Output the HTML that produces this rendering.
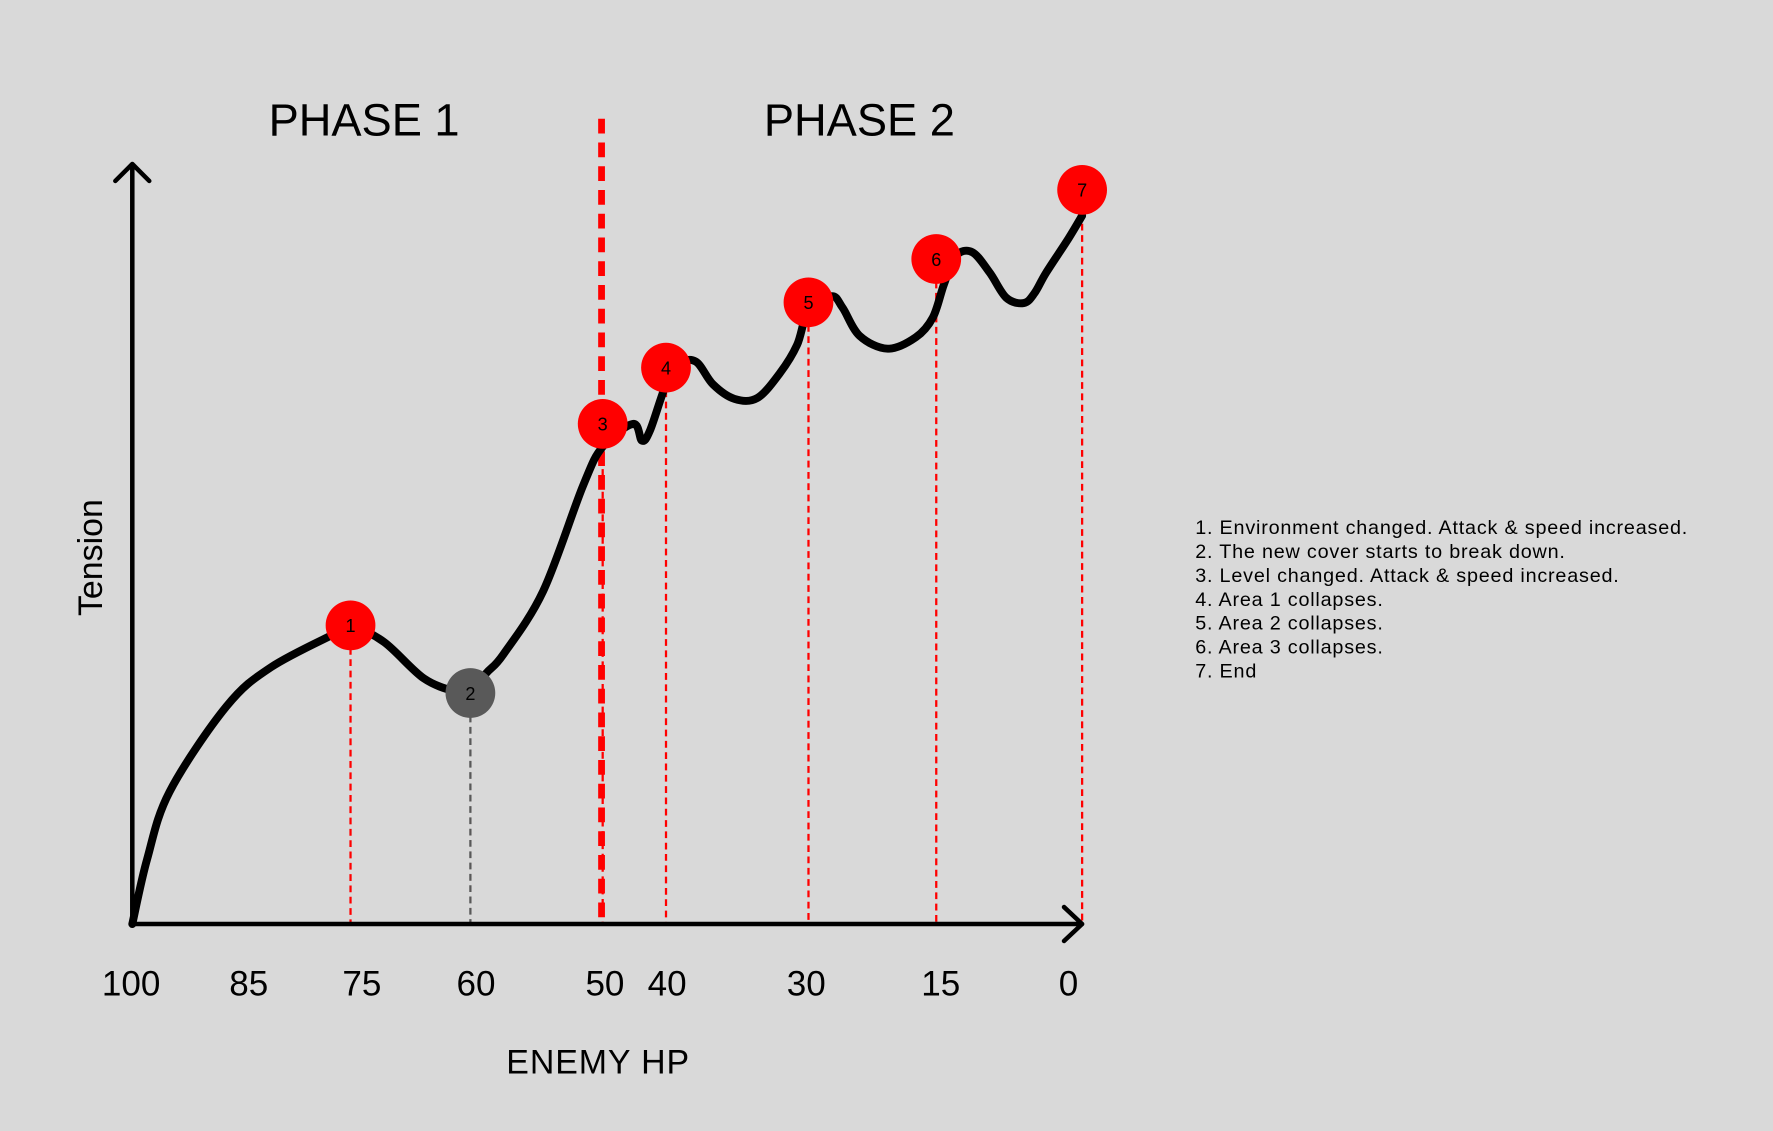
<!DOCTYPE html>
<html><head><meta charset="utf-8"><style>
html,body{margin:0;padding:0;background:#d9d9d9;}
svg{display:block;font-family:"Liberation Sans",sans-serif;}
</style></head><body>
<svg id="chart" width="1773" height="1131" viewBox="0 0 1568 1000" preserveAspectRatio="none" xmlns="http://www.w3.org/2000/svg">
<rect width="1568" height="1000" fill="#d9d9d9"/>
<g id="layer"></g>
</svg>
<script>
const hpTicks = [100, 85, 75, 60, 50, 40, 30, 15, 0];
const curveHp = [100,98.1,95.2,87.9,82.8,76.1,75,70.8,65.8,61.6,60,58.8,57.5,54.5,51.5,50,45.2,43.8,42.5,40,39.1,37.9,36.7,35.2,33.6,32.0,30.8,30,27.3,26.0,24.0,20.7,17.4,15.4,14.2,13.0,11.3,9.5,7.8,6.0,4.9,3.7,1.4,0];
const curveTension = [0,8.5,17.4,28.6,33.8,38.5,39.3,37.1,32.3,30.5,30.4,33.0,35.5,43.8,57.6,62.8,65.8,63.6,65.0,71.0,73.7,74.0,71.0,69.1,69.2,72.5,76.2,80.7,82.6,81.1,77.4,75.7,77.2,79.8,84.2,87.9,88.4,85.7,82.4,81.7,83.0,85.7,90.2,93.2];
const markerLabels = ["1","2","3","4","5","6","7"];
const markerHp = [75, 60, 50, 40, 30, 15, 0];
const markerTension = [39.3, 30.4, 65.8, 73.2, 81.8, 87.5, 96.6];
const markerColors = ["#ff0000","#595959","#ff0000","#ff0000","#ff0000","#ff0000","#ff0000"];
const legendItems = ["1. Environment changed. Attack & speed increased.","2. The new cover starts to break down.","3. Level changed. Attack & speed increased.","4. Area 1 collapses.","5. Area 2 collapses.","6. Area 3 collapses.","7. End"];
const phaseBoundaryHp = 50;

const xDomain = [100, 85, 75, 60, 50, 40, 30, 15, 0];
const xRange = [117, 220, 310, 416, 533, 589, 715, 828, 957];
function xScale(v){
  for(let i=0;i<xDomain.length-1;i++){
    const a=xDomain[i], b=xDomain[i+1];
    if(v<=a && v>=b){ return xRange[i]+(a-v)/(a-b)*(xRange[i+1]-xRange[i]); }
  }
  return v>100?xRange[0]:xRange[xRange.length-1];
}
const Y0=817, Y1=145;
function yScale(t){ return Y0-(t/100)*(Y0-Y1); }

const NS="http://www.w3.org/2000/svg";
const layer=document.getElementById('layer');
function mk(tag,attrs){const e=document.createElementNS(NS,tag);for(const k in attrs)e.setAttribute(k,attrs[k]);layer.appendChild(e);return e;}

let t=mk('text',{x:322,y:120,'font-size':40,'text-anchor':'middle',fill:'#000','font-weight':300});t.textContent='PHASE 1';


t=mk('text',{x:760,y:120,'font-size':40,'text-anchor':'middle',fill:'#000','font-weight':300});t.textContent='PHASE 2';



for(let i=0;i<markerHp.length;i++){
  const x=xScale(markerHp[i]);
  const l=mk('line',{x1:x,x2:x,y1:yScale(markerTension[i]),y2:Y0,stroke:markerColors[i]==='#595959'?'#595959':'#ff0000','stroke-width':2,'stroke-dasharray':'6 4'});
  
  
}
const bx=xScale(phaseBoundaryHp)-1;
let pb=mk('line',{x1:bx,x2:bx,y1:105,y2:817,stroke:'#ff0000','stroke-width':6,'stroke-dasharray':'13 8'});



let ax=mk('path',{d:`M117 ${Y0} H957 M941 802 L957 ${Y0} L941 832`,stroke:'#000','stroke-width':4,fill:'none','stroke-linecap':'round','stroke-linejoin':'round'});


let ay=mk('path',{d:`M117 ${Y0} V145 M102 160 L117 145 L132 160`,stroke:'#000','stroke-width':4,fill:'none','stroke-linecap':'round','stroke-linejoin':'round'});



const pts=curveHp.map((h,i)=>[xScale(h),yScale(curveTension[i])]);
let d=`M${pts[0][0]} ${pts[0][1]}`;
for(let i=0;i<pts.length-1;i++){
  const p0=pts[Math.max(0,i-1)],p1=pts[i],p2=pts[i+1],p3=pts[Math.min(pts.length-1,i+2)];
  const c1=[p1[0]+(p2[0]-p0[0])/6,p1[1]+(p2[1]-p0[1])/6];
  const c2=[p2[0]-(p3[0]-p1[0])/6,p2[1]-(p3[1]-p1[1])/6];
  d+=` C${c1[0]} ${c1[1]} ${c2[0]} ${c2[1]} ${p2[0]} ${p2[1]}`;
}
let cv=mk('path',{d:d,stroke:'#000','stroke-width':7,fill:'none','stroke-linecap':'round','stroke-linejoin':'round'});



for(let i=0;i<markerHp.length;i++){
  const x=xScale(markerHp[i]), y=yScale(markerTension[i]);
  const c=mk('circle',{cx:x,cy:y,r:22,fill:markerColors[i]});
  
  
  const tx=mk('text',{x:x,y:y+6,'font-size':16,'text-anchor':'middle',fill:'#000'});
  tx.textContent=markerLabels[i];
  
  
}

const tickOffsets={100:-1,85:0,75:10,60:5,50:2,40:1,30:-2,15:4,0:-12};
for(let i=0;i<hpTicks.length;i++){
  const v=hpTicks[i];
  const tl=mk('text',{x:xScale(v)+(tickOffsets[v]||0),y:880,'font-size':31,'text-anchor':'middle',fill:'#000'});
  tl.textContent=String(v);
  
  
}
t=mk('text',{x:529,y:949,'font-size':30,'text-anchor':'middle',fill:'#000','letter-spacing':0.8});t.textContent='ENEMY HP';


t=mk('text',{x:0,y:0,'font-size':30,'text-anchor':'middle',fill:'#000','font-weight':500,transform:'translate(90,493) rotate(-90)'});t.textContent='Tension';



for(let i=0;i<legendItems.length;i++){
  const lt=mk('text',{x:1057,y:472+i*21.2,'font-size':17.5,fill:'#000','letter-spacing':0.7});
  lt.textContent=legendItems[i];
  
  
}
</script>
</body></html>
